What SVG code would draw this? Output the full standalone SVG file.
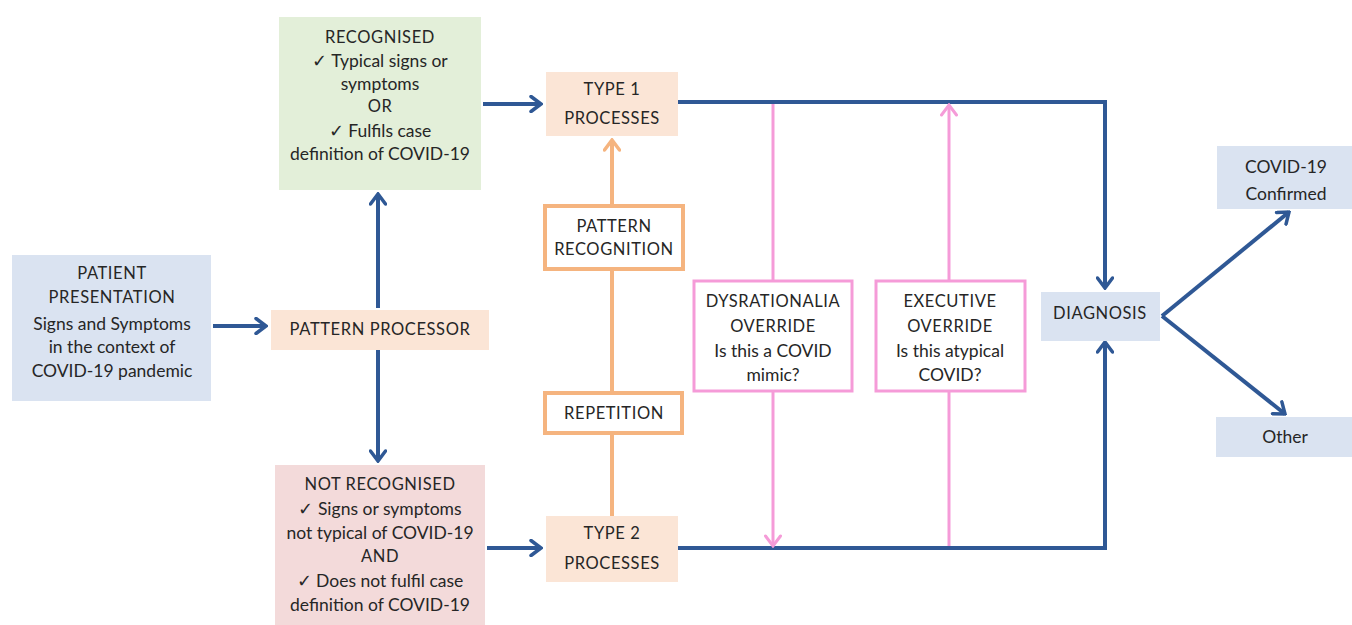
<svg xmlns="http://www.w3.org/2000/svg" width="1352" height="625" viewBox="0 0 1352 625">
<defs>
<style>
text{font-family:Lato,"Open Sans","Liberation Sans",sans-serif;font-size:17.5px;fill:#262626;text-anchor:middle;dominant-baseline:central}
.cap{font-size:16.5px;letter-spacing:0.6px}
.blue{stroke:#2f5895;stroke-width:4;fill:none}
.org{stroke:#f5b47f;stroke-width:4;fill:none}
.pink{stroke:#f59bd8;stroke-width:3;fill:none}
</style>
<marker id="ab" viewBox="0 0 14 18" refX="12" refY="9" markerWidth="14" markerHeight="18" markerUnits="userSpaceOnUse" orient="auto"><path d="M2,1.5 L12,9 L2,16.5" fill="none" stroke="#2f5895" stroke-width="3.5" stroke-linecap="round"/></marker>
<marker id="ao" viewBox="0 0 14 18" refX="12" refY="9" markerWidth="14" markerHeight="18" markerUnits="userSpaceOnUse" orient="auto"><path d="M2,1.5 L12,9 L2,16.5" fill="none" stroke="#f5b47f" stroke-width="3.5" stroke-linecap="round"/></marker>
<marker id="ap" viewBox="0 0 14 18" refX="12" refY="9" markerWidth="14" markerHeight="18" markerUnits="userSpaceOnUse" orient="auto"><path d="M2,1.5 L12,9 L2,16.5" fill="none" stroke="#f59bd8" stroke-width="3" stroke-linecap="round"/></marker>
</defs>
<rect width="1352" height="625" fill="#fff"/>

<g id="connectors">
<line class="blue" x1="213" y1="326" x2="266" y2="326" marker-end="url(#ab)"/>
<line class="blue" x1="378" y1="308" x2="378" y2="194" marker-end="url(#ab)"/>
<line class="blue" x1="378" y1="350" x2="378" y2="461" marker-end="url(#ab)"/>
<line class="blue" x1="483" y1="104" x2="541" y2="104" marker-end="url(#ab)"/>
<line class="blue" x1="487" y1="548" x2="541" y2="548" marker-end="url(#ab)"/>
<polyline class="blue" points="678,102 1105,102 1105,288" marker-end="url(#ab)"/>
<polyline class="blue" points="678,548 1105,548 1105,342" marker-end="url(#ab)"/>
<line class="blue" x1="1162" y1="316" x2="1289" y2="212" marker-end="url(#ab)"/>
<line class="blue" x1="1162" y1="316" x2="1285" y2="414" marker-end="url(#ab)"/>
<line class="org" x1="612" y1="204" x2="612" y2="140" marker-end="url(#ao)"/>
<line class="org" x1="612" y1="270" x2="612" y2="392"/>
<line class="org" x1="612" y1="434" x2="612" y2="516"/>
<line class="pink" x1="773" y1="104" x2="773" y2="280"/>
<line class="pink" x1="773" y1="391" x2="773" y2="546" marker-end="url(#ap)"/>
<line class="pink" x1="949" y1="546" x2="949" y2="391"/>
<line class="pink" x1="949" y1="280" x2="949" y2="105" marker-end="url(#ap)"/>
</g>

<g id="recognised">
<rect x="279" y="17" width="202" height="173" fill="#e3efd9"/>
<text x="380" y="37" class="cap">RECOGNISED</text>
<text x="380" y="60">✓ Typical signs or</text>
<text x="380" y="83">symptoms</text>
<text x="380" y="106" class="cap">OR</text>
<text x="380" y="130">✓ Fulfils case</text>
<text x="380" y="153">definition of COVID-19</text>
</g>

<g id="type1">
<rect x="546" y="72" width="132" height="64" fill="#fbe5d6"/>
<text x="612" y="89" class="cap">TYPE 1</text>
<text x="612" y="118" class="cap">PROCESSES</text>
</g>

<g id="pattern-recognition">
<rect x="545" y="206" width="138" height="63" fill="#fff" stroke="#f5b47f" stroke-width="4"/>
<text x="614" y="226" class="cap">PATTERN</text>
<text x="614" y="249" class="cap">RECOGNITION</text>
</g>

<g id="repetition">
<rect x="545" y="393" width="137" height="40" fill="#fff" stroke="#f5b47f" stroke-width="4"/>
<text x="614" y="413" class="cap">REPETITION</text>
</g>

<g id="type2">
<rect x="546" y="516" width="132" height="66" fill="#fbe5d6"/>
<text x="612" y="533" class="cap">TYPE 2</text>
<text x="612" y="563" class="cap">PROCESSES</text>
</g>

<g id="patient">
<rect x="12" y="255" width="199" height="146" fill="#dae3f1"/>
<text x="112" y="273" class="cap">PATIENT</text>
<text x="112" y="297" class="cap">PRESENTATION</text>
<text x="112" y="323">Signs and Symptoms</text>
<text x="112" y="346">in the context of</text>
<text x="112" y="370">COVID-19 pandemic</text>
</g>

<g id="pattern-processor">
<rect x="271" y="310" width="218" height="40" fill="#fbe5d6"/>
<text x="380" y="329" class="cap">PATTERN PROCESSOR</text>
</g>

<g id="not-recognised">
<rect x="275" y="465" width="210" height="160" fill="#f3dada"/>
<text x="380" y="484" class="cap">NOT RECOGNISED</text>
<text x="380" y="508">✓ Signs or symptoms</text>
<text x="380" y="532">not typical of COVID-19</text>
<text x="380" y="556" class="cap">AND</text>
<text x="380" y="580">✓ Does not fulfil case</text>
<text x="380" y="604">definition of COVID-19</text>
</g>

<g id="dysrationalia">
<rect x="694" y="281" width="158" height="110" fill="#fff" stroke="#f59bd8" stroke-width="3"/>
<text x="773" y="301" class="cap">DYSRATIONALIA</text>
<text x="773" y="326" class="cap">OVERRIDE</text>
<text x="773" y="350">Is this a COVID</text>
<text x="773" y="374">mimic?</text>
</g>

<g id="executive">
<rect x="876" y="281" width="149" height="110" fill="#fff" stroke="#f59bd8" stroke-width="3"/>
<text x="950" y="301" class="cap">EXECUTIVE</text>
<text x="950" y="326" class="cap">OVERRIDE</text>
<text x="950" y="350">Is this atypical</text>
<text x="950" y="374">COVID?</text>
</g>

<g id="diagnosis">
<rect x="1041" y="292" width="119" height="49" fill="#dae3f1"/>
<text x="1100" y="313" class="cap">DIAGNOSIS</text>
</g>

<g id="confirmed">
<rect x="1217" y="146" width="135" height="63" fill="#dae3f1"/>
<text x="1286" y="166">COVID-19</text>
<text x="1286" y="193">Confirmed</text>
</g>

<g id="other">
<rect x="1216" y="417" width="136" height="40" fill="#dae3f1"/>
<text x="1285" y="436">Other</text>
</g>
</svg>
